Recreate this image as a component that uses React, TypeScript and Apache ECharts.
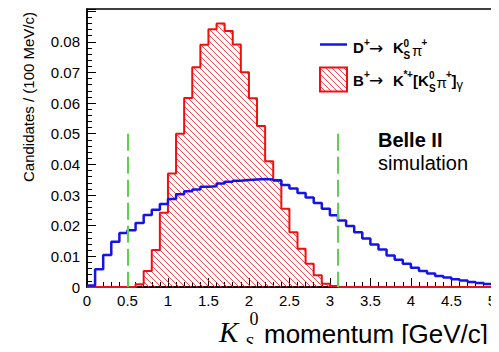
import React, { useEffect, useRef } from "react";
import * as echarts from "echarts";

// Histogram binning: 50 bins of 100 MeV/c from 0 to 5 GeV/c
const BIN_WIDTH = 0.1;
const X_MIN = 0;
const X_MAX = 5;
const Y_MAX = 0.0907;

// Normalised candidates per bin, D+ -> KS pi+
const dToKsPi = [
  0.0005, 0.0058, 0.0104, 0.0148, 0.0176, 0.0185, 0.0209, 0.0235, 0.0252, 0.0271,
  0.0287, 0.0303, 0.0312, 0.0318, 0.0327, 0.0329, 0.0338, 0.0343, 0.0347, 0.0349,
  0.0351, 0.0352, 0.0351, 0.0348, 0.0333, 0.0321, 0.0307, 0.0292, 0.0274, 0.0255,
  0.0234, 0.0217, 0.0199, 0.0179, 0.0158, 0.0139, 0.0122, 0.0103, 0.0089, 0.0076,
  0.0063, 0.0052, 0.0044, 0.0036, 0.0031, 0.0025, 0.0021, 0.0016, 0.0013, 0.001,
];

// Normalised candidates per bin, B+ -> K*+[KS pi+] gamma
const bToKstarGamma = [
  0, 0, 0, 0, 0, 0, 0.0009, 0.0052, 0.0121, 0.0242,
  0.037, 0.05, 0.0617, 0.0717, 0.079, 0.0841, 0.086, 0.0835, 0.0791, 0.0701,
  0.0616, 0.0525, 0.041, 0.0347, 0.0255, 0.0179, 0.0125, 0.0076, 0.0038, 0.0011,
  0.0003, 0, 0, 0, 0, 0, 0, 0, 0, 0,
  0, 0, 0, 0, 0, 0, 0, 0, 0, 0,
];

// Momentum selection window and the height of its markers
const cutPositions = [0.5, 3.1];
const cutHeight = 0.05;

const X_TICK_STEP = 0.5;
const Y_TICK_STEP = 0.01;
const Y_LAST_LABEL = 0.08;

const SANS = "'Liberation Sans', Arial, Helvetica, sans-serif";
const SERIF = "'Liberation Serif', 'Times New Roman', serif";
const BLUE = "#1414e6";
const RED = "#ee1010";
const GREEN = "#5fcf4f";

// Left bin edges plus a closing point so the last bin is drawn by the step line
function stepData(values: number[]): number[][] {
  const pts = values.map((v, i) => [X_MIN + i * BIN_WIDTH, v]);
  pts.push([X_MAX, values[values.length - 1]]);
  return pts;
}

function hatchTile(): HTMLCanvasElement {
  const s = 6;
  const c = document.createElement("canvas");
  c.width = s;
  c.height = s;
  const ctx = c.getContext("2d");
  if (ctx) {
    ctx.strokeStyle = "rgba(236, 40, 40, 0.85)";
    ctx.lineWidth = 1;
    ctx.beginPath();
    ctx.moveTo(-1, -1);
    ctx.lineTo(s + 1, s + 1);
    ctx.moveTo(-2, s - 2);
    ctx.lineTo(2, s + 2);
    ctx.moveTo(s - 2, -2);
    ctx.lineTo(s + 2, 2);
    ctx.stroke();
  }
  return c;
}

type TextOpts = { weight?: string; family?: string; italic?: boolean; align?: string; rotation?: number };

function label(text: string, x: number, y: number, size: number, opts: TextOpts = {}) {
  return {
    type: "text",
    x,
    y,
    rotation: opts.rotation ?? 0,
    silent: true,
    style: {
      text,
      fontFamily: opts.family ?? SANS,
      fontSize: size,
      fontWeight: opts.weight ?? "normal",
      fontStyle: opts.italic ? "italic" : "normal",
      fill: "#000",
      align: opts.align ?? "left",
      verticalAlign: "middle",
    },
  };
}

export default function App() {
  const ref = useRef<HTMLDivElement>(null);

  useEffect(() => {
    if (!ref.current) return;
    const chart = echarts.init(ref.current, null, { renderer: "svg" });
    const hatch = { image: hatchTile(), repeat: "repeat" };
    const B = { weight: "bold" };
    const ARROW = { family: "'DejaVu Sans', sans-serif" };

    const option: any = {
      animation: false,
      grid: {
        left: 87,
        right: 4,
        top: 9,
        bottom: 65,
        show: true,
        borderColor: "#000",
        borderWidth: 1.5,
      },
      xAxis: {
        type: "value",
        min: X_MIN,
        max: X_MAX,
        interval: X_TICK_STEP,
        axisLine: { show: true, onZero: false, lineStyle: { color: "#000", width: 1.5 } },
        axisTick: { show: true, inside: true, length: 9, lineStyle: { color: "#000", width: 1 } },
        minorTick: { show: true, splitNumber: 5, length: 5, lineStyle: { color: "#000", width: 1 } },
        splitLine: { show: false },
        axisLabel: { color: "#000", fontFamily: SANS, fontSize: 15, margin: 6 },
      },
      yAxis: {
        type: "value",
        min: 0,
        max: Y_MAX,
        interval: Y_TICK_STEP,
        axisLine: { show: true, onZero: false, lineStyle: { color: "#000", width: 1.5 } },
        axisTick: { show: true, inside: true, length: 9, lineStyle: { color: "#000", width: 1 } },
        minorTick: { show: true, splitNumber: 5, length: 5, lineStyle: { color: "#000", width: 1 } },
        splitLine: { show: false },
        axisLabel: {
          color: "#000",
          fontFamily: SANS,
          fontSize: 15,
          margin: 7,
          showMaxLabel: false,
          formatter: (v: number) => {
            const k = v / Y_TICK_STEP;
            if (Math.abs(k - Math.round(k)) > 1e-6 || v > Y_LAST_LABEL + 1e-9) return "";
            return v === 0 ? "0" : v.toFixed(2);
          },
        },
      },
      series: [
        {
          name: "B+ -> K*+[KS pi+] gamma",
          type: "line",
          step: "end",
          data: stepData(bToKstarGamma),
          showSymbol: false,
          symbol: "none",
          lineStyle: { color: RED, width: 2 },
          areaStyle: { color: hatch, opacity: 1, origin: "start" },
          z: 2,
        },
        {
          name: "D+ -> KS pi+",
          type: "line",
          step: "end",
          data: stepData(dToKsPi),
          showSymbol: false,
          symbol: "none",
          lineStyle: { color: BLUE, width: 2.5 },
          z: 3,
          markLine: {
            silent: true,
            symbol: "none",
            label: { show: false },
            lineStyle: { color: GREEN, width: 2, type: [17, 6] },
            data: cutPositions.map((x) => [{ coord: [x, cutHeight] }, { coord: [x, 0] }]),
          },
        },
      ],
      graphic: [
        // legend keys
        { type: "line", silent: true, shape: { x1: 320, y1: 44.5, x2: 347, y2: 44.5 }, style: { stroke: BLUE, lineWidth: 2.5 } },
        { type: "rect", silent: true, shape: { x: 320, y: 67.5, width: 27, height: 24 }, style: { fill: hatch, stroke: RED, lineWidth: 2 } },
        // D+ -> KS pi+
        label("D", 353, 47.5, 15, B),
        label("+", 364, 42, 10, B),
        label("\u2192", 369, 47.5, 17, ARROW),
        label("K", 393, 47.5, 15, B),
        label("0", 403.5, 43, 10, B),
        label("S", 403.5, 55.5, 10, B),
        label("\u03c0", 412, 50, 15),
        label("+", 421.5, 42, 10, B),
        // B+ -> K*+[KS pi+] gamma
        label("B", 353, 80, 15, B),
        label("+", 364, 74.5, 10, B),
        label("\u2192", 369, 80, 17, ARROW),
        label("K", 393, 80, 15, B),
        label("*", 403.5, 74.5, 10, B),
        label("+", 407, 74.5, 10, B),
        label("[", 413, 80.5, 15, B),
        label("K", 418, 80, 15, B),
        label("0", 429, 75.5, 10, B),
        label("S", 429, 88, 10, B),
        label("\u03c0", 436.5, 82.5, 15),
        label("+", 446, 74.5, 10, B),
        label("]", 451.5, 80.5, 15, B),
        label("\u03b3", 456.5, 84, 13),
        // experiment tag
        label("Belle II", 378, 140, 20, B),
        label("simulation", 378, 163, 20),
        // axis titles
        label("Candidates / (100 MeV/c)", 28, 97, 15, { align: "center", rotation: Math.PI / 2 }),
        label("K", 219, 332, 29, { family: SERIF, italic: true }),
        label("0", 249.5, 318.5, 18, { family: SERIF }),
        label("S", 245, 342, 17, { family: SERIF, italic: true }),
        label("momentum [GeV/c]", 264, 334, 26),
      ],
    };

    chart.setOption(option);
    return () => chart.dispose();
  }, []);

  return <div ref={ref} style={{ width: 499, height: 352, margin: -8 }} />;
}
